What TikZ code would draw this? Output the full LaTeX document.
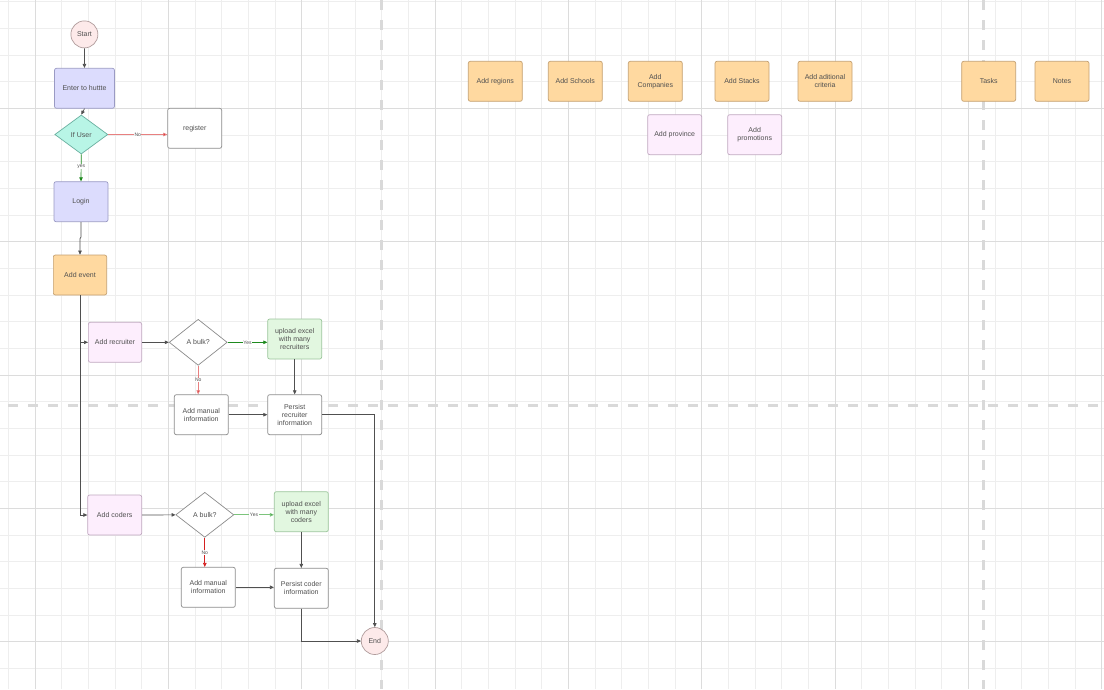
\documentclass[tikz,border=0pt]{standalone}
\usepackage{fontspec}
\setmainfont{Liberation Sans}
\usetikzlibrary{arrows.meta,shapes.geometric,calc}
\definecolor{gminor}{HTML}{EEEEEE}
\definecolor{gmajor}{HTML}{DCDCDC}
\definecolor{dashc}{HTML}{D9D9D9}
\definecolor{txt}{HTML}{505050}
\definecolor{circf}{HTML}{FDEAEA}\definecolor{circd}{HTML}{B09C9C}
\definecolor{lavf}{HTML}{DCDCFD}\definecolor{lavd}{HTML}{9A9AC4}
\definecolor{aquaf}{HTML}{B8F5E6}\definecolor{aquad}{HTML}{6AB0A0}
\definecolor{orf}{HTML}{FFD9A0}\definecolor{ord}{HTML}{C4A070}
\definecolor{pkf}{HTML}{FDEEFD}\definecolor{pkd}{HTML}{C0A8C0}
\definecolor{grf}{HTML}{E2F7E0}\definecolor{grd}{HTML}{9CC69C}
\definecolor{whd}{HTML}{8C8C8C}
\definecolor{linec}{HTML}{505050}
\definecolor{yesg}{HTML}{1E8A1E}
\definecolor{yesl}{HTML}{7CC47C}
\definecolor{nor}{HTML}{D42020}
\definecolor{norl}{HTML}{E88080}
\tikzset{
  base/.style={font=\fontsize{7}{8}\selectfont, text=txt, align=center, inner sep=1pt},
  bx/.style={base, rectangle, rounded corners=2pt, draw, line width=0.7pt, minimum width=54pt, minimum height=40pt},
  lav/.style={bx, fill=lavf, draw=lavd},
  orb/.style={bx, fill=orf, draw=ord},
  pkb/.style={bx, fill=pkf, draw=pkd},
  grb/.style={bx, fill=grf, draw=grd},
  whb/.style={bx, fill=white, draw=whd},
  circ/.style={base, circle, fill=circf, draw=circd, line width=0.7pt, minimum size=27pt, inner sep=0pt},
  dia/.style={base, diamond, draw, line width=0.7pt, inner sep=0pt, minimum width=58pt, minimum height=46pt},
  arr/.style={draw=linec, line width=0.7pt, -{Triangle[length=4pt,width=3.5pt]}},
  lbl/.style={font=\fontsize{5}{6}\selectfont, text=txt, fill=white, inner sep=0.5pt},
}
\begin{document}
\begin{tikzpicture}[x=1pt,y=-1pt]
\useasboundingbox (0,0) rectangle (1104,689);
\fill[white] (0,0) rectangle (1104,689);
% grid
\foreach \k in {0,...,41} \draw[gminor, line width=0.6pt] ({8.333+26.667*\k},0) -- ({8.333+26.667*\k},689);
\foreach \k in {0,...,25} \draw[gminor, line width=0.6pt] (0,{1.667+26.667*\k}) -- (1104,{1.667+26.667*\k});
\foreach \k in {0,...,8} \draw[gmajor, line width=0.7pt] ({35+133.333*\k},0) -- ({35+133.333*\k},689);
\foreach \k in {0,...,4} \draw[gmajor, line width=0.7pt] (0,{108.333+133.333*\k}) -- (1104,{108.333+133.333*\k});
% lane dividers
\draw[dashc, line width=3pt, dash pattern=on 10pt off 10pt] (8,405) -- (1104,405);
\draw[dashc, line width=3pt, dash pattern=on 10pt off 10pt] (381,0) -- (381,689);
\draw[dashc, line width=3pt, dash pattern=on 10pt off 10pt] (983.5,0) -- (983.5,689);
% nodes
\node[circ] (start) at (84.4,34.4) {Start};
\node[lav, minimum width=60pt] (enter) at (84.5,88.3) {Enter to huttte};
\node[dia, fill=aquaf, draw=aquad, minimum width=53pt, minimum height=39pt] (ifuser) at (81.3,134.5) {If User};
\node[whb] (register) at (194.7,128.3) {register};
\node[lav] (login) at (81,201.7) {Login};
\node[orb, minimum width=53.3pt] (event) at (80,275) {Add event};
\node[pkb, minimum width=53.3pt] (recruiter) at (115,342.3) {Add recruiter};
\node[dia, fill=white, draw=whd] (bulk1) at (198.2,342.3) {A bulk?};
\node[grb] (upload1) at (294.7,339) {upload excel\\with many\\recruiters};
\node[whb] (manual1) at (201.3,414.7) {Add manual\\information};
\node[whb] (persist1) at (294.7,414.7) {Persist\\recruiter\\information};
\node[pkb] (coders) at (114.7,515) {Add coders};
\node[dia, fill=white, draw=whd, minimum height=45pt] (bulk2) at (204.8,514.8) {A bulk?};
\node[grb] (upload2) at (301.3,511.7) {upload excel\\with many\\coders};
\node[whb] (manual2) at (208.3,587.3) {Add manual\\information};
\node[whb] (persist2) at (301.3,588.3) {Persist coder\\information};
\node[circ] (end) at (374.8,641) {End};
% right-side boxes
\node[orb] (regions) at (495.3,81.3) {Add regions};
\node[orb] (schools) at (575.3,81.3) {Add Schools};
\node[orb] (companies) at (655.3,81.3) {Add\\Companies};
\node[orb] (stacks) at (742,81.3) {Add Stacks};
\node[orb] (criteria) at (825,81.3) {Add aditional\\criteria};
\node[pkb] (province) at (674.7,134.7) {Add province};
\node[pkb] (promotions) at (754.7,134.7) {Add\\promotions};
\node[orb] (tasks) at (988.7,81.3) {Tasks};
\node[orb] (notes) at (1062,81.3) {Notes};
% connectors
\draw[arr] (start) -- (enter);
\draw[arr] (enter.south) -- (ifuser.north);
\draw[arr, draw=norl, -{Triangle[length=4pt,width=3.5pt,fill=nor]}] (ifuser.east) -- node[lbl]{No} (ifuser.east -| register.west);
\draw[arr, draw=yesg] (ifuser.south) -- node[lbl, pos=0.45]{yes} (login.north);
\draw[arr] (login.south) -- ++(0,15) -- ($(event.north)+(0,-16)$) -- (event.north);
\draw[arr] (event.south) |- (recruiter.west);
\draw[arr] (event.south) |- (coders.west);
\draw[arr] (recruiter) -- (bulk1);
\draw[arr, draw=yesg] (bulk1.east) -- node[lbl]{Yes} (bulk1.east -| upload1.west);
\draw[arr, draw=norl, -{Triangle[length=4pt,width=3.5pt,fill=nor]}] (bulk1.south) -- node[lbl]{No} (bulk1.south |- manual1.north);
\draw[arr] (upload1) -- (persist1);
\draw[arr] (manual1) -- (persist1);
\draw[arr] (persist1.east) -| (end.north);
\draw[arr] (coders) -- (bulk2);
\draw[arr, draw=yesl, -{Triangle[length=4pt,width=3.5pt,fill=yesg]}] (bulk2.east) -- node[lbl]{Yes} (bulk2.east -| upload2.west);
\draw[arr, draw=nor] (bulk2.south) -- node[lbl]{No} (bulk2.south |- manual2.north);
\draw[arr] (upload2) -- (persist2);
\draw[arr] (manual2.east) -- (manual2.east -| persist2.west);
\draw[arr] (persist2.south) |- (end.west);
\end{tikzpicture}
\end{document}
